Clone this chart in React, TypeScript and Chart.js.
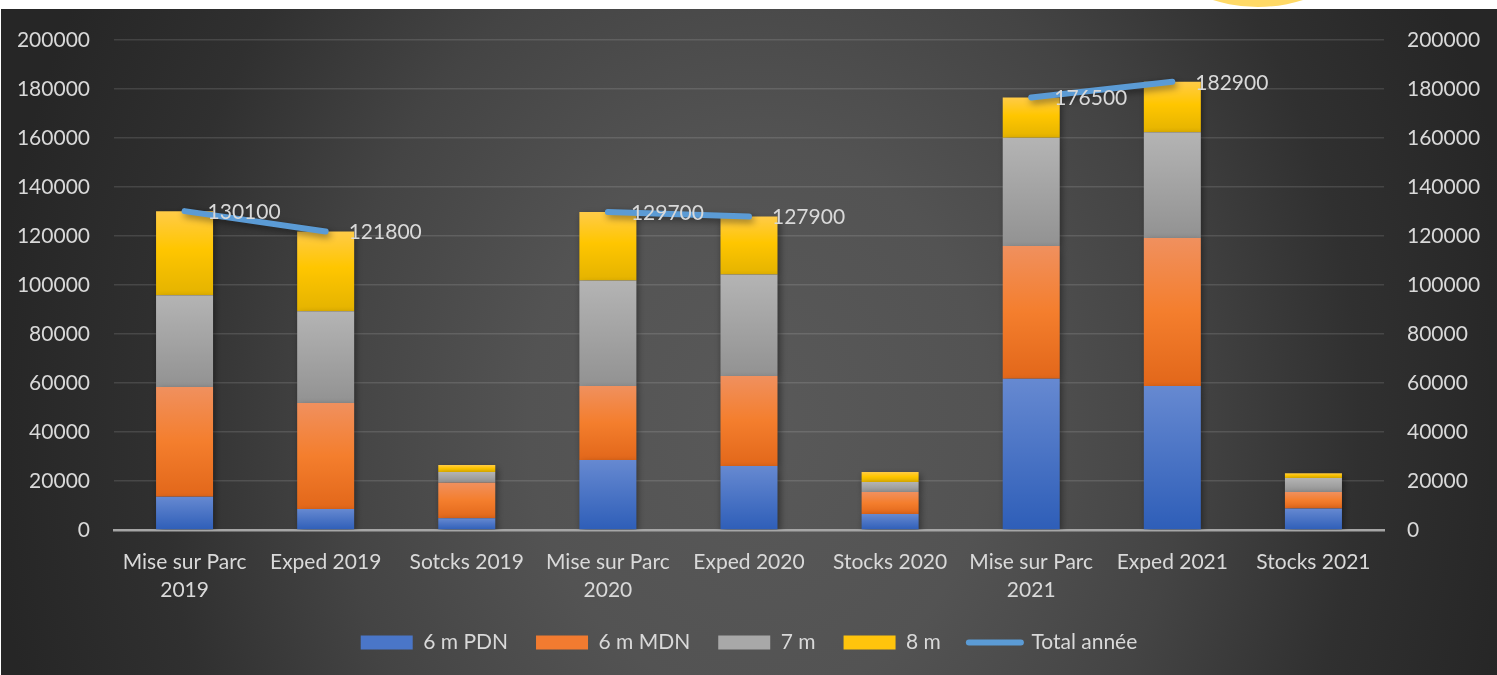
import React, { useEffect, useRef } from "react";
import { Chart, registerables } from "chart.js";

Chart.register(...registerables);

// ---------- data ----------
const categories: (string | string[])[] = [
  ["Mise sur Parc", "2019"],
  "Exped 2019",
  "Sotcks 2019",
  ["Mise sur Parc", "2020"],
  "Exped 2020",
  "Stocks 2020",
  ["Mise sur Parc", "2021"],
  "Exped 2021",
  "Stocks 2021",
];
const pdn6 = [13600, 8600, 4800, 28600, 26100, 6500, 61700, 58800, 8800];
const mdn6 = [44700, 43200, 14500, 30200, 36700, 9000, 54200, 60300, 6700];
const m7 = [37500, 37500, 4400, 43000, 41400, 4100, 44100, 43200, 5700];
const m8 = [34300, 32500, 2800, 27900, 23700, 4100, 16500, 20600, 2000];
const totalAnnee: (number | null)[] = [130100, 121800, null, 129700, 127900, null, 176500, 182900, null];
const seriesNames = ["6 m PDN", "6 m MDN", "7 m", "8 m", "Total année"];
const yMin = 0;
const yMax = 200000;
const yStep = 20000;

// ---------- styles ----------
const FONT = "Lato, 'Open Sans', sans-serif";
const TEXT = "#d9d9d9";
const barStack = [pdn6, mdn6, m7, m8];
const gradStops: [number, string][][] = [
  [[0, "#6689D1"], [1, "#2E5EB8"]],
  [[0, "#F0905E"], [0.5, "#F47E2D"], [1, "#E2671A"]],
  [[0, "#B4B4B4"], [1, "#929292"]],
  [[0, "#FFCB48"], [0.45, "#FFC600"], [1, "#E4B300"]],
];
const legendColors = ["#4A76C8", "#F27B30", "#A8A8A8", "#FFC40C", "#5B9BD5"];
const LINE_COLOR = "#5B9BD5";

function segGradient(di: number) {
  const stops = gradStops[di];
  const mid = stops[Math.floor(stops.length / 2)][1];
  return (ctx: any) => {
    const chart = ctx.chart;
    const y = chart.scales && chart.scales.y;
    if (!chart.chartArea || !y || ctx.type !== "data" || ctx.dataIndex == null) return mid;
    const i = ctx.dataIndex;
    let base = 0;
    for (let k = 0; k < di; k++) base += barStack[k][i];
    const top = base + barStack[di][i];
    const y0 = y.getPixelForValue(top);
    const y1 = y.getPixelForValue(base);
    if (!isFinite(y0) || !isFinite(y1) || Math.abs(y1 - y0) < 0.5) return mid;
    const g = chart.ctx.createLinearGradient(0, y0, 0, y1);
    stops.forEach(([o, c]) => g.addColorStop(o, c));
    return g;
  };
}

const bgPlugin = {
  id: "bgPlugin",
  beforeDraw(chart: any) {
    const { ctx, width, height } = chart;
    ctx.save();
    ctx.fillStyle = "#262626";
    ctx.fillRect(0, 0, width, height);
    ctx.translate(width * 0.507, height * 0.62);
    ctx.scale(1, 1.2);
    const R = 770;
    const g = ctx.createRadialGradient(0, 0, 0, 0, 0, R);
    g.addColorStop(0, "#595959");
    g.addColorStop(0.3, "#535353");
    g.addColorStop(0.55, "#444444");
    g.addColorStop(0.78, "#303030");
    g.addColorStop(1, "#262626");
    ctx.fillStyle = g;
    ctx.fillRect(-width, -height, width * 2, height * 2);
    ctx.restore();
  },
};

const shadowPlugin = {
  id: "shadowPlugin",
  beforeDatasetDraw(chart: any) {
    const ctx = chart.ctx;
    ctx.save();
    ctx.shadowColor = "rgba(0,0,0,0.45)";
    ctx.shadowBlur = 7;
    ctx.shadowOffsetX = 2;
    ctx.shadowOffsetY = 3;
  },
  afterDatasetDraw(chart: any) {
    chart.ctx.restore();
  },
};

const labelPlugin = {
  id: "labelPlugin",
  afterDatasetsDraw(chart: any) {
    const idx = chart.data.datasets.findIndex((d: any) => d.type === "line");
    const meta = chart.getDatasetMeta(idx);
    const ctx = chart.ctx;
    ctx.save();
    ctx.font = `21px ${FONT}`;
    ctx.fillStyle = TEXT;
    ctx.textAlign = "left";
    ctx.textBaseline = "middle";
    meta.data.forEach((pt: any, i: number) => {
      const v = totalAnnee[i];
      if (v == null) return;
      ctx.fillText(String(v), pt.x + 23, pt.y + 1);
    });
    ctx.restore();
  },
};

export default function App() {
  const ref = useRef<HTMLCanvasElement | null>(null);
  useEffect(() => {
    if (!ref.current) return;
    const tickFont = { family: FONT, size: 21, lineHeight: 1.35 };
    const yFont = { family: FONT, size: 21, lineHeight: 0.65 };
    const chart = new Chart(ref.current, {
      type: "bar",
      data: {
        labels: categories as any,
        datasets: [
          ...barStack.map((arr, di) => ({
            type: "bar" as const,
            label: seriesNames[di],
            data: arr,
            backgroundColor: segGradient(di) as any,
            borderWidth: 0,
            yAxisID: "y",
            order: 1,
            categoryPercentage: 1,
            barPercentage: 0.404,
          })),
          {
            type: "line" as const,
            label: seriesNames[4],
            data: totalAnnee as any,
            borderColor: LINE_COLOR,
            backgroundColor: LINE_COLOR,
            borderWidth: 6,
            borderCapStyle: "round",
            pointRadius: 0,
            pointHoverRadius: 0,
            spanGaps: false,
            yAxisID: "y2",
            order: 0,
          } as any,
        ],
      },
      options: {
        responsive: false,
        animation: false,
        layout: { padding: { top: 16, left: 0, right: 0, bottom: 12 } },
        plugins: {
          tooltip: { enabled: false },
          legend: {
            position: "bottom",
            labels: {
              color: TEXT,
              font: { family: FONT, size: 21 },
              usePointStyle: true,
              pointStyleWidth: 52,
              boxHeight: 14,
              padding: 28,
              generateLabels: () =>
                seriesNames.map((name, i) => ({
                  text: name,
                  fillStyle: legendColors[i],
                  strokeStyle: legendColors[i],
                  lineWidth: i === 4 ? 6 : 0,
                  lineCap: "round",
                  pointStyle: i === 4 ? "line" : "rect",
                  fontColor: TEXT,
                  hidden: false,
                  datasetIndex: i,
                })) as any,
            },
          },
        },
        scales: {
          x: {
            stacked: true,
            grid: { display: false, drawTicks: false },
            border: { color: "#a6a6a6", width: 2.5 },
            ticks: { color: TEXT, font: tickFont, padding: 18, maxRotation: 0, autoSkip: false },
            afterFit: (s: any) => {
              s.height = 74;
            },
          },
          y: {
            stacked: true,
            position: "left",
            min: yMin,
            max: yMax,
            grid: { color: "rgba(255,255,255,0.12)", lineWidth: 1.5, drawTicks: false },
            border: { display: false },
            ticks: { stepSize: yStep, color: TEXT, font: yFont, padding: 24, callback: (v: any) => String(v) },
            afterFit: (s: any) => {
              s.width = 113;
            },
          },
          y2: {
            position: "right",
            min: yMin,
            max: yMax,
            grid: { display: false, drawTicks: false },
            border: { display: false },
            ticks: { stepSize: yStep, color: TEXT, font: yFont, padding: 23, callback: (v: any) => String(v) },
            afterFit: (s: any) => {
              s.width = 113;
            },
          },
        },
      } as any,
      plugins: [bgPlugin, shadowPlugin, labelPlugin],
    });
    return () => chart.destroy();
  }, []);

  return (
    <div style={{ position: "fixed", inset: 0, background: "#ffffff", overflow: "hidden" }}>
      <div
        style={{
          position: "absolute",
          left: 1110,
          top: -289,
          width: 296,
          height: 296,
          borderRadius: "50%",
          background: "#FFD966",
        }}
      />
      <canvas
        ref={ref}
        width={1496}
        height={666}
        style={{ position: "absolute", left: 1, top: 9, width: 1496, height: 666 }}
      />
    </div>
  );
}
